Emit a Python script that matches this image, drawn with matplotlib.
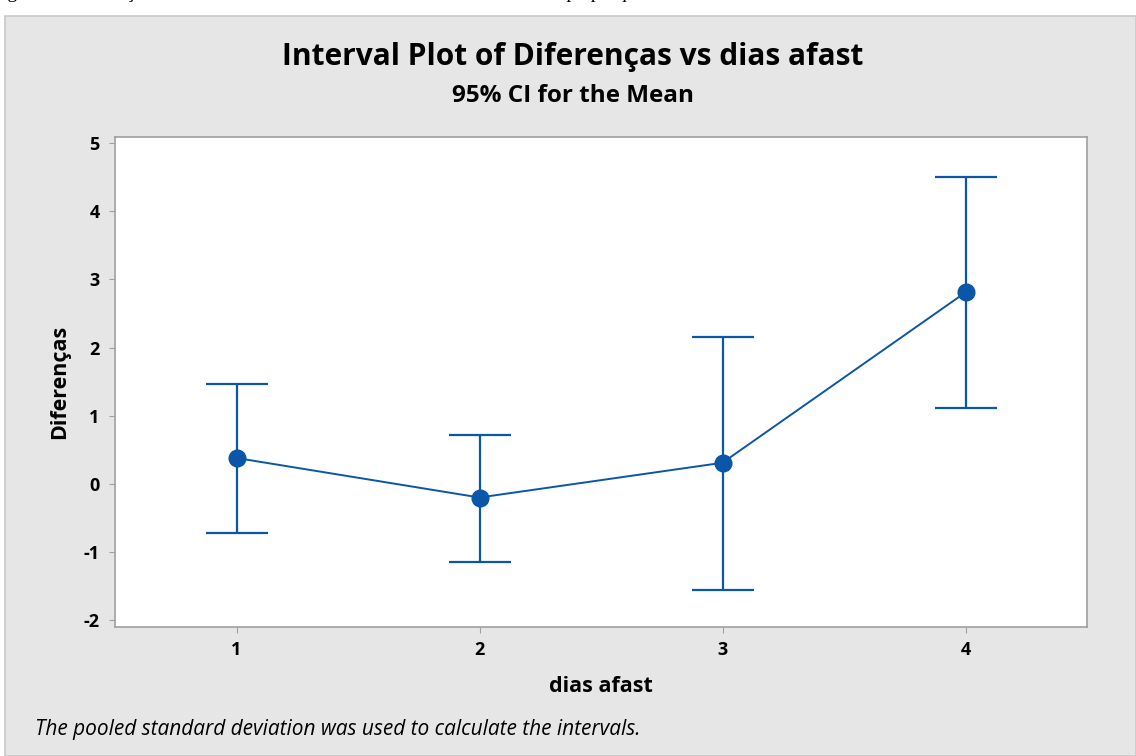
import matplotlib.pyplot as plt
from matplotlib.patches import Rectangle

# interval data: group means and 95% CI bounds
dias = [1, 2, 3, 4]
medias = [0.38, -0.20, 0.31, 2.81]
ic_sup = [1.47, 0.71, 2.15, 4.50]
ic_inf = [-0.72, -1.15, -1.56, 1.12]
yticks = [-2, -1, 0, 1, 2, 3, 4, 5]

azul = "#0a56a8"
plt.rcParams["font.family"] = ["Open Sans", "DejaVu Sans"]

fig = plt.figure(figsize=(11.36, 7.56), dpi=100)
fig.patch.set_facecolor("white")

# grey panel behind the chart
fig.patches.append(Rectangle((5 / 1136, 0), 1 - 5 / 1136, 740 / 756,
                             transform=fig.transFigure, facecolor="#e6e6e6",
                             edgecolor="#c8c8c8", lw=1.2, zorder=-10))

# caption from the page, cut off at the top edge
fig.text(2 / 1136, 1 + 6 / 756, "igura 11 \u2013 Varia\u00e7\u00e3o entre as m\u00e9dias de IGT1 e IGT2 no intervalo de tempo pesquisado.",
         family="Liberation Serif", fontsize=14, va="center", ha="left")

ax = fig.add_axes([115 / 1136, 1 - 627 / 756, (1087 - 115) / 1136, (627 - 137) / 756])
ax.set_facecolor("white")

err_lo = [m - lo for m, lo in zip(medias, ic_inf)]
err_hi = [hi - m for m, hi in zip(medias, ic_sup)]
ax.errorbar(dias, medias, yerr=[err_lo, err_hi], fmt="none", ecolor=azul,
            elinewidth=1.6, capsize=22, capthick=1.6, zorder=2)
ax.plot(dias, medias, color=azul, lw=1.4, zorder=3)
ax.plot(dias, medias, "o", color=azul, ms=12, zorder=4)

ax.set_xlim(0.5, 4.5)
ax.set_ylim(-2.1, 5.09)
ax.set_xticks(dias)
ax.set_yticks(yticks)
ax.set_xticklabels([str(d) for d in dias], fontweight="bold")
ax.set_yticklabels([str(t) for t in yticks], fontweight="bold")
ax.tick_params(labelsize=13, length=4, color="#a0a0a0")
ax.tick_params(axis="x", pad=6)
ax.tick_params(axis="y", pad=7)

for s in ax.spines.values():
    s.set_color("#a0a0a0")
    s.set_linewidth(1.2)

ax.set_xlabel("dias afast", fontsize=15.5, fontweight="bold", labelpad=12)
ax.set_ylabel("Diferen\u00e7as", fontsize=15.5, fontweight="bold", labelpad=10)

fig.text(573 / 1136, 1 - 57 / 756, "Interval Plot of Diferen\u00e7as vs dias afast",
         fontsize=21.5, fontweight="bold", ha="center", va="center")
fig.text(573 / 1136, 1 - 96 / 756, "95% CI for the Mean",
         fontsize=17.5, fontweight="bold", ha="center", va="center")
fig.text(35 / 1136, 1 - 729 / 756,
         "The pooled standard deviation was used to calculate the intervals.",
         fontsize=15, style="italic", ha="left", va="center")

fig.savefig("out.png", dpi=100)
